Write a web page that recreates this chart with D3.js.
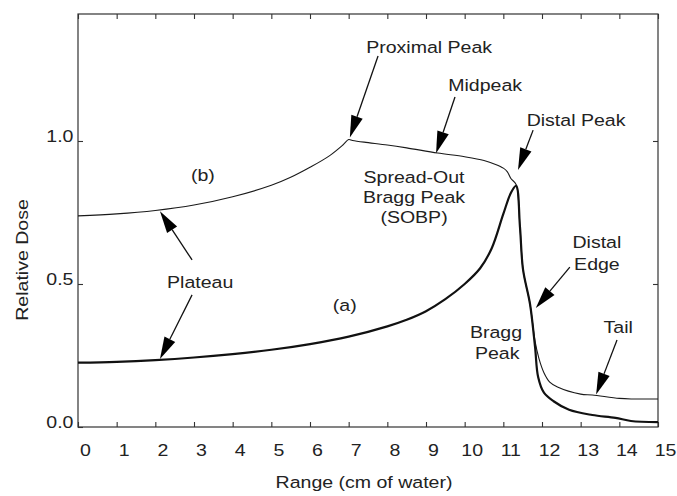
<!DOCTYPE html>
<html>
<head>
<meta charset="utf-8">
<script src="https://cdn.jsdelivr.net/npm/d3@7"></script>
<style>
  html, body { margin: 0; padding: 0; background: #fff; }
  svg text { font-family: "Liberation Sans", Arial, Helvetica, sans-serif; fill: #222; }
</style>
</head>
<body>
<svg id="chart" width="677" height="496"></svg>
<script>
// Range ticks (cm of water) and dose ticks
const rangeTicks = d3.range(0, 16);
const doseTicks = [0, 0.5, 1.0];

// (a) pristine Bragg peak
const rangeA = [0, 1, 2, 3, 4, 5, 6, 7, 8, 8.5, 9, 9.5, 10, 10.4, 10.7, 11.0, 11.2, 11.33,
  11.43, 11.51, 11.69, 11.82, 11.9, 12.05, 12.3, 12.7, 13.3, 13.9, 14.3, 15];
const doseA = [0.225, 0.228, 0.234, 0.243, 0.255, 0.27, 0.29, 0.316, 0.352, 0.375, 0.405, 0.447, 0.50, 0.555, 0.625, 0.745, 0.82, 0.843,
  0.70, 0.55, 0.43, 0.28, 0.175, 0.12, 0.09, 0.06, 0.042, 0.032, 0.021, 0.017];

// (b) spread-out Bragg peak
const rangeB = [0, 1, 2, 3, 4, 5, 5.5, 6, 6.5, 6.85, 7.0, 7.1, 7.4, 8, 8.5, 9.3, 10, 10.5, 10.8, 11.0, 11.1, 11.2, 11.33,
  11.43, 11.51, 11.69, 11.82, 11.92, 12.05, 12.2, 12.4, 13.0, 13.3, 14.0, 14.35, 15];
const doseB = [0.738, 0.745, 0.757, 0.776, 0.805, 0.845, 0.873, 0.908, 0.948, 0.986, 1.005, 1.002, 0.996, 0.986, 0.976, 0.958, 0.945, 0.932, 0.918, 0.905, 0.893, 0.868, 0.848,
  0.70, 0.55, 0.43, 0.30, 0.24, 0.19, 0.157, 0.14, 0.115, 0.112, 0.10, 0.098, 0.098];

// annotation labels, placed in data units: [range, dose, text]
const labels = [
  [9.08, 1.329, 'Proximal Peak'],
  [10.53, 1.196, 'Midpeak'],
  [12.88, 1.073, 'Distal Peak'],
  [8.69, 0.874, 'Spread-Out'],
  [8.69, 0.804, 'Bragg Peak'],
  [8.69, 0.734, '(SOBP)'],
  [3.23, 0.881, '(b)'],
  [3.16, 0.507, 'Plateau'],
  [6.9, 0.427, '(a)'],
  [13.42, 0.647, 'Distal'],
  [13.42, 0.570, 'Edge'],
  [10.81, 0.332, 'Bragg'],
  [10.84, 0.259, 'Peak'],
  [13.97, 0.35, 'Tail']
];

// arrows: [fromRange, fromDose, tipRange, tipDose]
const arrows = [
  [7.76, 1.297, 7.03, 1.012],
  [9.75, 1.154, 9.26, 0.957],
  [11.77, 1.038, 11.38, 0.899],
  [2.95, 0.584, 2.12, 0.754],
  [2.95, 0.462, 2.12, 0.238],
  [12.72, 0.559, 11.84, 0.416],
  [13.94, 0.304, 13.40, 0.114]
];

const STRETCH = 1.15;

const svg = d3.select('#chart');
const margin = { top: 14, right: 19, bottom: 69, left: 78 };
const width = 677 - margin.left - margin.right;
const height = 496 - margin.top - margin.bottom;

const g = svg.append('g')
  .attr('transform', `translate(${margin.left},${margin.top})`);

const x = d3.scaleLinear().domain([0, 15]).range([0, width]);
const y = d3.scaleLinear().domain([0, 1.444]).range([height, 0]);

// frame
g.append('rect')
  .attr('x', 0).attr('y', 0)
  .attr('width', width).attr('height', height)
  .attr('fill', 'none')
  .attr('stroke', '#333')
  .attr('stroke-width', 1.2);

// Axes (ticks point inward)
const xAxis = g.append('g')
  .attr('transform', `translate(0,${height})`)
  .call(d3.axisBottom(x).tickValues(rangeTicks).tickSize(-5).tickPadding(17).tickFormat(d3.format('d')));
xAxis.selectAll('text')
  .attr('transform', `translate(7,0) scale(${STRETCH},1)`);

g.append('g')
  .call(d3.axisTop(x).tickValues(rangeTicks).tickSize(-5).tickFormat(''));

const yAxis = g.append('g')
  .call(d3.axisLeft(y).tickValues(doseTicks).tickSize(-5).tickPadding(4).tickFormat(d3.format('.1f')));
yAxis.selectAll('text')
  .attr('dy', '0.03em')
  .attr('transform', `scale(${STRETCH},1)`);

g.append('g')
  .attr('transform', `translate(${width},0)`)
  .call(d3.axisRight(y).tickValues([0.5, 1.0]).tickSize(-5).tickFormat(''));

g.selectAll('.domain').remove();
g.selectAll('.tick line').attr('stroke', '#333').attr('stroke-width', 1.1);
g.selectAll('.tick text').attr('font-size', 17).attr('fill', '#222');

// axis titles
svg.append('text')
  .attr('transform', `translate(364,482) scale(${STRETCH},1)`)
  .attr('text-anchor', 'middle')
  .attr('dy', '0.35em')
  .attr('font-size', 17)
  .text('Range (cm of water)');

svg.append('text')
  .attr('transform', `translate(22,260) rotate(-90) scale(${STRETCH},1)`)
  .attr('text-anchor', 'middle')
  .attr('dy', '0.35em')
  .attr('font-size', 17)
  .text('Relative Dose');

// curves
const line = d3.line()
  .x((d) => x(d[0]))
  .y((d) => y(d[1]))
  .curve(d3.curveCatmullRom.alpha(0.5));

const curveB = rangeB.map((r, i) => [r, doseB[i]]);
const curveA = rangeA.map((r, i) => [r, doseA[i]]);

g.append('path')
  .datum(curveB)
  .attr('fill', 'none')
  .attr('stroke', '#1a1a1a')
  .attr('stroke-width', 1.1)
  .attr('d', line);

g.append('path')
  .datum(curveA)
  .attr('fill', 'none')
  .attr('stroke', '#111')
  .attr('stroke-width', 2.2)
  .attr('d', line);

// annotation text
labels.forEach(([r, d, s]) => {
  g.append('text')
    .attr('transform', `translate(${x(r)},${y(d)}) scale(${STRETCH},1)`)
    .attr('text-anchor', 'middle')
    .attr('dy', '0.35em')
    .attr('font-size', 17)
    .text(s);
});

// arrows: thin shaft + filled head at the tip
const headLen = 22;
const headHalf = 6;
arrows.forEach(([r0, d0, r1, d1]) => {
  const x0 = x(r0), y0 = y(d0), x1 = x(r1), y1 = y(d1);
  const len = Math.hypot(x1 - x0, y1 - y0);
  const ux = (x1 - x0) / len, uy = (y1 - y0) / len;
  const bx = x1 - ux * headLen, by = y1 - uy * headLen;

  g.append('line')
    .attr('x1', x0).attr('y1', y0)
    .attr('x2', bx).attr('y2', by)
    .attr('stroke', '#111')
    .attr('stroke-width', 1.3);

  g.append('path')
    .attr('d', `M${x1},${y1}L${bx - uy * headHalf},${by + ux * headHalf}L${bx + uy * headHalf},${by - ux * headHalf}Z`)
    .attr('fill', '#000');
});
</script>
</body>
</html>
